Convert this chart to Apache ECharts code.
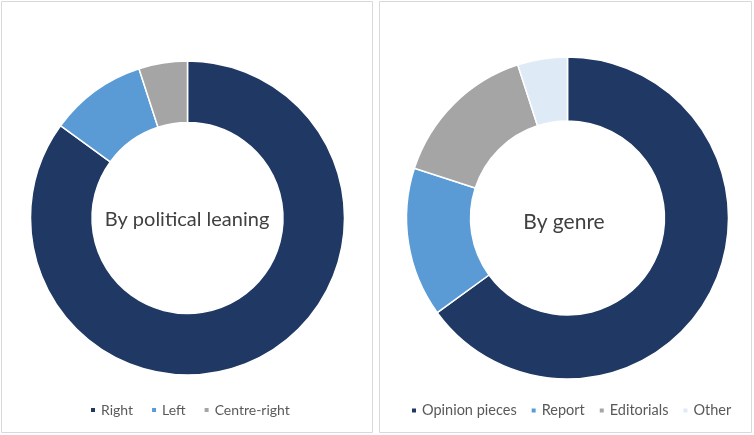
<!DOCTYPE html>
<html>
<head>
<meta charset="utf-8">
<script src="https://cdn.jsdelivr.net/npm/echarts@6/dist/echarts.min.js"></script>
<style>html,body{margin:0;padding:0;background:#fff;}#c{width:754px;height:435px;}</style>
</head>
<body>
<div id="c"></div>
<script>
const leaningNames = ['Right', 'Left', 'Centre-right'];
const leaningValues = [85, 10, 5];
const genreNames = ['Opinion pieces', 'Report', 'Editorials', 'Other'];
const genreValues = [65, 15, 15, 5];
const colors = ['#1f3864', '#5b9bd5', '#a5a5a5', '#deebf7'];
const leaningTitle = 'By political leaning';
const genreTitle = 'By genre';

const FONT = 'Lato';
const chart = echarts.init(document.getElementById('c'));
function mk(names, vals) {
  return names.map((n, i) => ({ name: n, value: vals[i], itemStyle: { color: colors[i] } }));
}
chart.setOption({
  animation: false,
  textStyle: { fontFamily: FONT },
  graphic: [
    { type: 'rect', silent: true, shape: { x: 1.5, y: 1.5, width: 371, height: 431 }, style: { fill: 'none', stroke: '#d9d9d9', lineWidth: 1 } },
    { type: 'rect', silent: true, shape: { x: 379.5, y: 1.5, width: 372, height: 431 }, style: { fill: 'none', stroke: '#d9d9d9', lineWidth: 1 } },
    { type: 'text', silent: true, x: 187, y: 220, style: { text: leaningTitle, fontSize: 20, fontFamily: FONT, fill: '#404040', align: 'center', verticalAlign: 'middle' } },
    { type: 'text', silent: true, x: 564, y: 222, style: { text: genreTitle, fontSize: 21, fontFamily: FONT, fill: '#404040', align: 'center', verticalAlign: 'middle' } }
  ],
  legend: [
    { data: leaningNames, left: 84, top: 398, itemWidth: 6, itemHeight: 6, itemGap: 17, icon: 'rect', textStyle: { fontSize: 14, color: '#595959', fontFamily: FONT } },
    { data: genreNames, left: 405, top: 398, itemWidth: 6, itemHeight: 6, itemGap: 13, icon: 'rect', textStyle: { fontSize: 14.5, color: '#595959', fontFamily: FONT } }
  ],
  series: [
    { type: 'pie', center: [187.5, 218], radius: [95.5, 157], startAngle: 90, clockwise: true, label: { show: false }, labelLine: { show: false }, silent: true,
      itemStyle: { borderColor: '#fff', borderWidth: 1.5 }, data: mk(leaningNames, leaningValues) },
    { type: 'pie', center: [567.5, 218], radius: [97, 161], startAngle: 90, clockwise: true, label: { show: false }, labelLine: { show: false }, silent: true,
      itemStyle: { borderColor: '#fff', borderWidth: 1.5 }, data: mk(genreNames, genreValues) }
  ]
});
</script>
</body>
</html>
